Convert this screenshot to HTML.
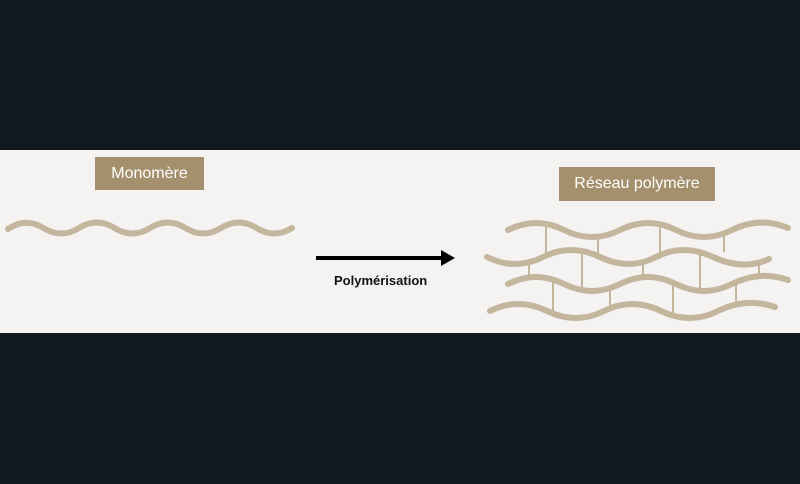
<!DOCTYPE html>
<html><head><meta charset="utf-8"><style>
html,body{margin:0;padding:0;background:#121820;}
body{width:800px;height:484px;position:relative;overflow:hidden;font-family:"Liberation Sans",sans-serif;}
.band{position:absolute;left:0;top:150px;width:800px;height:183px;background:#f4f3f1;}
.lbl{position:absolute;background:#a5906d;color:#fff;font-size:16px;display:flex;align-items:center;justify-content:center;}
svg{position:absolute;left:0;top:0;}
.t{position:absolute;font-weight:bold;font-size:13px;color:#111;}
</style></head><body>
<div class="band"></div>
<div class="lbl" style="left:95px;top:157px;width:109px;height:33px;">Monomère</div>
<div class="lbl" style="left:559px;top:167px;width:156px;height:34px;">Réseau polymère</div>
<svg width="800" height="484" viewBox="0 0 800 484">
<g stroke="#c4b59d" stroke-width="2">
<line x1="546" y1="224" x2="546" y2="256"/>
<line x1="598" y1="237" x2="598" y2="256"/>
<line x1="660" y1="224" x2="660" y2="259"/>
<line x1="724" y1="233" x2="724" y2="252"/>
<line x1="529" y1="262" x2="529" y2="277"/>
<line x1="582" y1="251" x2="582" y2="290"/>
<line x1="643" y1="262" x2="643" y2="277"/>
<line x1="700" y1="252" x2="700" y2="291"/>
<line x1="759" y1="261" x2="759" y2="277"/>
<line x1="553" y1="280" x2="553" y2="314"/>
<line x1="610" y1="288" x2="610" y2="308"/>
<line x1="673" y1="283" x2="673" y2="316"/>
<line x1="736" y1="282" x2="736" y2="305"/>
</g>
<g fill="none" stroke="#c4b59d" stroke-width="6" stroke-linecap="round">
<path d="M8,229 Q25.75,217 43.5,228 T79,228 T114.5,228 T150,228 T185.5,228 T221,228 T256.5,228 T292,228"/>
<path d="M508,230 Q536,216 564,230 T620,230 T676,230 T732,230 T788,228"/>
<path d="M487,257 Q515,271 543,257 T600,257 T656,257 T713,257 T769,259"/>
<path d="M508,284 Q536,270 564,284 T620,284 T676,284 T732,284 T788,280"/>
<path d="M490,311 Q518,297 547,311 T604,311 T661,311 T718,311 T775,307"/>
</g>
<line x1="316" y1="258" x2="444" y2="258" stroke="#000" stroke-width="4"/>
<polygon points="441,250 455,258 441,266" fill="#000"/>
</svg>
<div class="t" style="left:334px;top:273px;">Polymérisation</div>
</body></html>
